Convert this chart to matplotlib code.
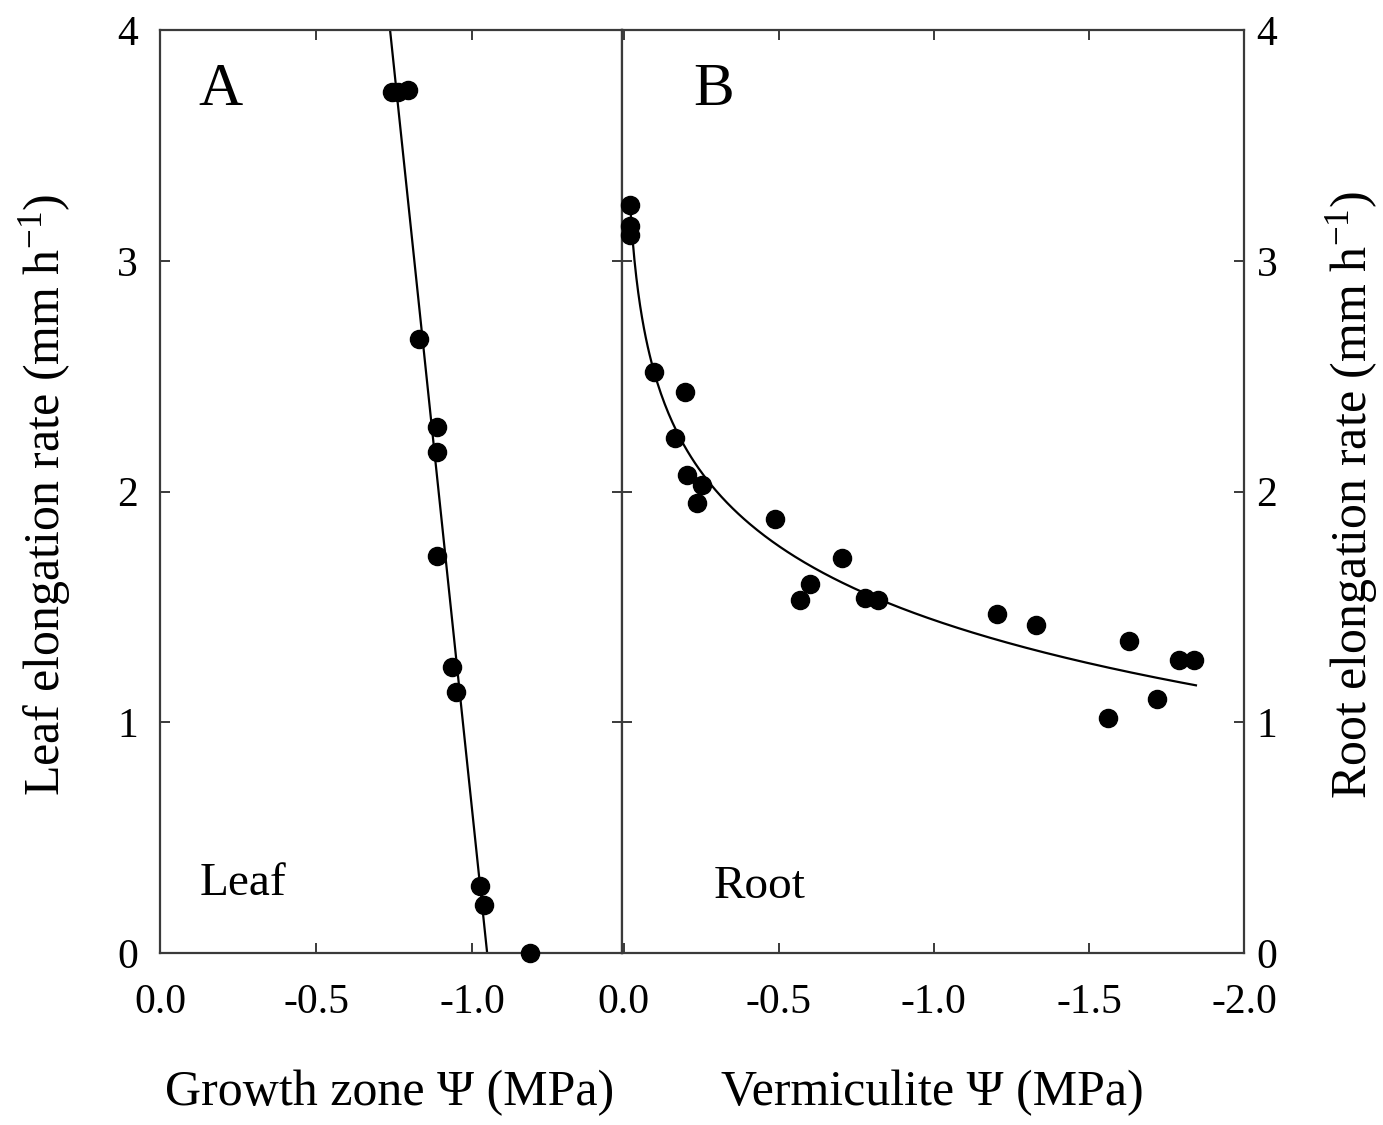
import numpy as np
import matplotlib
matplotlib.use("Agg")
import matplotlib.pyplot as plt

plt.rcParams['font.family'] = ['Liberation Serif', 'DejaVu Serif']
plt.rcParams['mathtext.fontset'] = 'custom'
plt.rcParams['mathtext.rm'] = 'Liberation Serif'
plt.rcParams['mathtext.it'] = 'Liberation Serif'

# --- Panel A: leaf growth zone water potential vs leaf elongation ---
leaf_psi = [-0.744, -0.763, -0.795, -0.830, -0.888, -0.888, -0.888,
            -0.936, -0.949, -1.026, -1.038, -1.186]
leaf_rate = [3.73, 3.73, 3.74, 2.66, 2.28, 2.17, 1.72,
             1.24, 1.13, 0.29, 0.21, 0.0]
# straight-line fit (top and bottom ends)
leaf_fit_psi = [-0.737, -1.048]
leaf_fit_rate = [4.0, 0.0]

# --- Panel B: vermiculite water potential vs root elongation ---
root_psi = [-0.019, -0.019, -0.019, -0.097, -0.196, -0.164, -0.203,
            -0.251, -0.235, -0.486, -0.702, -0.567, -0.599, -0.779,
            -0.821, -1.202, -1.330, -1.630, -1.790, -1.840, -1.720, -1.560]
root_rate = [3.24, 3.15, 3.11, 2.52, 2.43, 2.23, 2.07,
             2.03, 1.95, 1.88, 1.71, 1.53, 1.60, 1.54,
             1.53, 1.47, 1.42, 1.35, 1.27, 1.27, 1.10, 1.02]
# logarithmic fit: rate = a + b * ln(-psi)
root_fit_a = 1.443
root_fit_b = -0.462
root_fit_range = (-0.022, -1.845)

W, H = 1383, 1125
fig = plt.figure(figsize=(W / 100, H / 100), dpi=100, facecolor='white')
ax1 = fig.add_axes([160 / W, 172 / H, 462 / W, 923 / H])
ax2 = fig.add_axes([622 / W, 172 / H, 622 / W, 923 / H])

spine_col = '#3a3a3a'
for ax in (ax1, ax2):
    for s in ax.spines.values():
        s.set_color(spine_col)
        s.set_linewidth(1.6)
    ax.set_ylim(0, 4)
    ax.set_yticks([0, 1, 2, 3, 4])
    ax.tick_params(direction='in', length=7, width=1.4, color=spine_col,
                   labelsize=30, top=True, bottom=True, left=True, right=True)
    ax.tick_params(axis='x', pad=22)

# Panel A
ax1.set_xlim(0, -1.48)
ax1.set_xticks([0.0, -0.5, -1.0])
ax1.set_xticklabels(['0.0', '-0.5', '-1.0'])
ax1.tick_params(axis='y', labelleft=True, labelright=False, pad=16)
ax1.plot(leaf_fit_psi, leaf_fit_rate, color='black', lw=1.6)
ax1.scatter(leaf_psi, leaf_rate, s=170, color='black', zorder=3, clip_on=False)
ax1.text(0.13, 0.935, 'A', transform=ax1.transAxes, fontsize=44,
         ha='center', va='center')
ax1.text(0.18, 0.075, 'Leaf', transform=ax1.transAxes, fontsize=34,
         ha='center', va='center')

# Panel B
ax2.set_xlim(0.006, -2.0)
ax2.set_xticks([0.0, -0.5, -1.0, -1.5, -2.0])
ax2.set_xticklabels(['0.0', '-0.5', '-1.0', '-1.5', '-2.0'])
ax2.tick_params(axis='y', labelleft=False, labelright=True, pad=9)
fx = np.linspace(root_fit_range[0], root_fit_range[1], 300)
ax2.plot(fx, root_fit_a + root_fit_b * np.log(-fx), color='black', lw=1.6)
ax2.scatter(root_psi, root_rate, s=170, color='black', zorder=3, clip_on=False)
ax2.text(0.147, 0.935, 'B', transform=ax2.transAxes, fontsize=44,
         ha='center', va='center')
ax2.text(0.221, 0.072, 'Root', transform=ax2.transAxes, fontsize=34,
         ha='center', va='center')

# axis titles
fig.text(390 / W, 1 - 1093 / H, 'Growth zone \u03a8 (MPa)', fontsize=36,
         ha='center', va='center')
fig.text(932 / W, 1 - 1093 / H, 'Vermiculite \u03a8 (MPa)', fontsize=36,
         ha='center', va='center')
fig.text(45 / W, 1 - 495 / H, r'Leaf elongation rate (mm h$^{-1}$)',
         fontsize=36, rotation=90, ha='center', va='center')
fig.text(1352 / W, 1 - 495 / H, r'Root elongation rate (mm h$^{-1}$)',
         fontsize=36, rotation=90, ha='center', va='center')

fig.savefig('out.png', dpi=100, facecolor='white')
